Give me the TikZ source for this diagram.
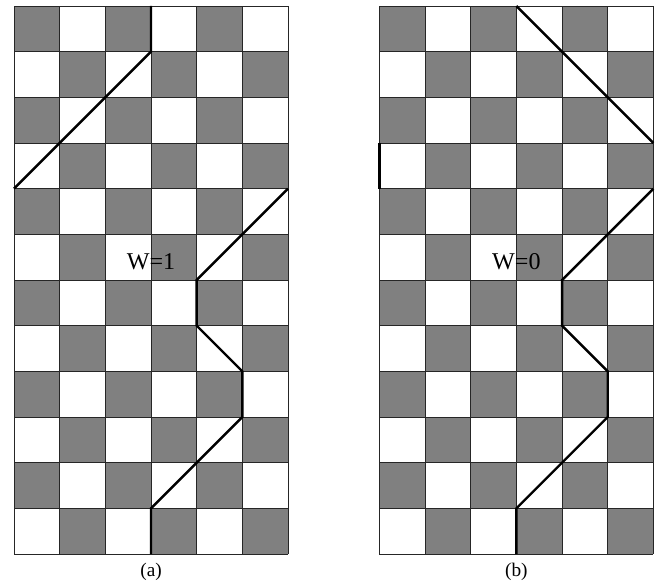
\documentclass[tikz,border=0pt]{standalone}
\usepackage{fontspec}
\setmainfont{Liberation Serif}
\begin{document}
\begin{tikzpicture}[
    wall/.style={line width=1.5pt, line join=miter},
    winding/.style={font=\fontsize{15}{18}\selectfont},
    caption/.style={font=\fontsize{12}{14}\selectfont}]
\useasboundingbox (-0.307,-0.613) rectangle (14.145,12.131);

% Checkerboards
\foreach \dx/\name in {0/a, 8/b} {
    \foreach \c in {0,...,5} {
        \foreach \r in {0,...,11} {
            \pgfmathtruncatemacro{\odd}{mod(\c+\r,2)}
            \ifnum\odd=1
                \fill[gray] (\dx+\c,\r) rectangle ++(1,1);
            \fi
        }
    }
    \draw[black!85, line width=0.5pt] (\dx,0) grid (\dx+6,12);
    \node[caption] (cap-\name) at (\dx+3,-0.39) {(\name)};
}

% Lower domain wall (same on both)
\foreach \dx in {0, 8} {
    \draw[wall] (\dx+3,0) -- ++(0,1) -- ++(2,2) -- ++(0,1) -- ++(-1,1) -- ++(0,1) -- ++(2,2);
}

% Upper domain wall (a)
\draw[wall] (3,12) -- (3,11) -- (0,8);

% Upper domain wall (b)
\draw[wall] (11,12) -- (14,9);
\draw[wall] (8,9) -- (8,8);

% Winding numbers
\node[winding] (wa) at (3,6.4) {W=1};
\node[winding] (wb) at (11,6.4) {W=0};
\end{tikzpicture}
\end{document}
